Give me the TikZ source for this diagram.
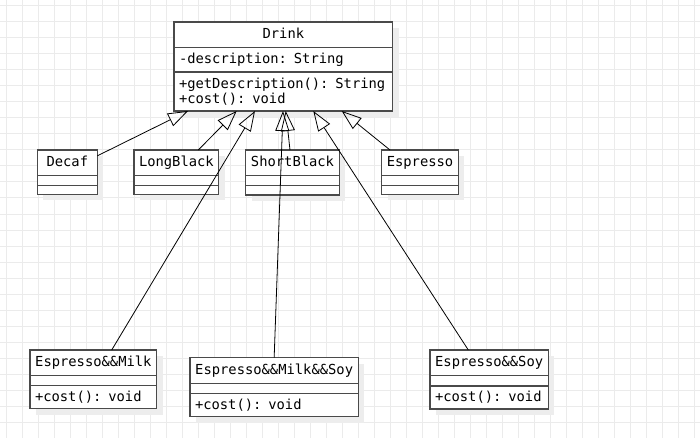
\documentclass[tikz,border=0pt]{standalone}
\usepackage{fontspec}
\setmonofont{DejaVu Sans Mono}
\usetikzlibrary{positioning, arrows.meta, shadows}
\definecolor{gridgray}{HTML}{EBEBEB}
\definecolor{boxgray}{HTML}{4A4A4A}
\definecolor{shadowgray}{HTML}{EDEDED}
\tikzstyle{classpart} = [rectangle, draw=boxgray, fill=white, line width=1.3pt, outer sep=0pt, inner xsep=5pt, inner ysep=0pt, text=black, font=\ttfamily\fontsize{13.8}{15}\selectfont, drop shadow={shadow xshift=6pt, shadow yshift=-6pt, fill=shadowgray, opacity=1}]
\tikzstyle{classname} = [classpart, minimum height=25.7pt, text height=10pt, text depth=3pt, anchor=north west]
\tikzstyle{classbody} = [classpart, align=left]
\tikzstyle{inherit} = [black, line width=0.8pt, -{Triangle[open, length=20pt, width=14pt]}]
\tikzstyle{gridline} = [gridgray, line width=1pt]

\begin{document}
\begin{tikzpicture}[x=1pt, y=-1pt]
        \fill [white] (0,0) rectangle (700,438);
        \useasboundingbox (0,0) rectangle (700,438);
        \foreach \x in {6,22,...,694} \draw [gridline] (\x,0) -- (\x,438);
        \foreach \y in {6,22,...,438} \draw [gridline] (0,\y) -- (700,\y);

        % base class
        \node (drinkname) [classname, minimum width=218.7pt] at (174,22) {Drink};
        \node (drinkattr) [classbody, minimum height=24.3pt, text width=208.7pt, below=0pt of drinkname] {-description: String};
        \node (drinkops) [classbody, minimum height=39pt, text width=208.7pt, below=0pt of drinkattr] {+getDescription(): String\\+cost(): void};

        % single coffees
        \node (decafname) [classname, minimum width=60pt] at (37.3,150) {Decaf};
        \node (decafattr) [classbody, minimum width=60pt, minimum height=9.6pt, below=0pt of decafname] {};
        \node (decafops) [classbody, minimum width=60pt, minimum height=9.2pt, below=0pt of decafattr] {};

        \node (longname) [classname, minimum width=84.7pt] at (134,150) {LongBlack};
        \node (longattr) [classbody, minimum width=84.7pt, minimum height=9.6pt, below=0pt of longname] {};
        \node (longops) [classbody, minimum width=84.7pt, minimum height=9.2pt, below=0pt of longattr] {};

        \node (shortname) [classname, minimum width=93.6pt] at (245.7,150) {ShortBlack};
        \node (shortattr) [classbody, minimum width=93.6pt, minimum height=9.8pt, below=0pt of shortname] {};
        \node (shortops) [classbody, minimum width=93.6pt, minimum height=9.5pt, below=0pt of shortattr] {};

        \node (espressoname) [classname, minimum width=76.6pt] at (381.7,150) {Espresso};
        \node (espressoattr) [classbody, minimum width=76.6pt, minimum height=9.6pt, below=0pt of espressoname] {};
        \node (espressoops) [classbody, minimum width=76.6pt, minimum height=9.2pt, below=0pt of espressoattr] {};

        % mixed coffees
        \node (milkname) [classname, minimum width=126.7pt] at (30,350) {Espresso\&\&Milk};
        \node (milkattr) [classbody, minimum width=126.7pt, minimum height=9.7pt, below=0pt of milkname] {};
        \node (milkops) [classbody, minimum height=23.3pt, text width=116.7pt, below=0pt of milkattr] {+cost(): void};

        \node (milksoyname) [classname, minimum width=168.3pt] at (190,357.7) {Espresso\&\&Milk\&\&Soy};
        \node (milksoyattr) [classbody, minimum width=168.3pt, minimum height=10pt, below=0pt of milksoyname] {};
        \node (milksoyops) [classbody, minimum height=23.4pt, text width=158.3pt, below=0pt of milksoyattr] {+cost(): void};

        \node (soyname) [classname, minimum width=118.3pt] at (430,350) {Espresso\&\&Soy};
        \node (soyattr) [classbody, minimum width=118.3pt, minimum height=10.3pt, below=0pt of soyname] {};
        \node (soyops) [classbody, minimum height=23pt, text width=108.3pt, below=0pt of soyattr] {+cost(): void};

        \draw [inherit] ([yshift=7pt]decafname.east) -- ([xshift=14pt]drinkops.south west);
        \draw [inherit] ([xshift=64.3pt]longname.north west) -- ([xshift=62.7pt]drinkops.south west);
        \draw [inherit] ([xshift=81.7pt]milkname.north west) -- ([xshift=81pt]drinkops.south west);
        \draw [inherit] ([xshift=44.3pt]shortname.north west) -- ([xshift=111.7pt]drinkops.south west);
        \draw [inherit] (milksoyname.north) -- ([xshift=109pt]drinkops.south west);
        \draw [inherit] ([xshift=38.3pt]soyname.north west) -- ([xshift=139.3pt]drinkops.south west);
        \draw [inherit] ([xshift=8.3pt]espressoname.north west) -- ([xshift=167.7pt]drinkops.south west);

    \end{tikzpicture}
\end{document}
